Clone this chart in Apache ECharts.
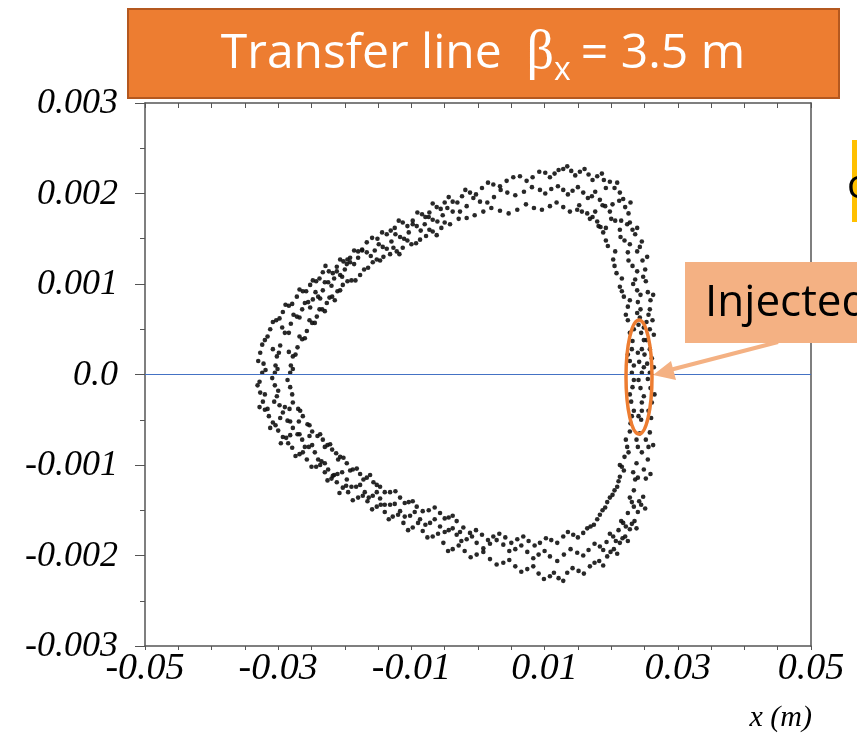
<!DOCTYPE html>
<html>
<head>
<meta charset="utf-8">
<script src="https://cdn.jsdelivr.net/npm/echarts@6/dist/echarts.min.js"></script>
<style>
  html, body { margin: 0; padding: 0; background: #fff; }
  #chart { width: 857px; height: 736px; }
</style>
</head>
<body>
<div id="chart"></div>
<script>
// points, x in mm, x' in mrad
var outerBand = [[25.8,0.02],[25.4,0.12],[26.1,0.18],[25.8,0.28],[25.3,0.38],[25.8,0.50],[26.2,0.60],[25.6,0.66],[25.8,0.72],[25.9,0.82],[25.5,0.91],[25.2,1.03],[25.1,1.16],[24.7,1.26],[24.3,1.41],[24.6,1.47],[23.6,1.55],[23.2,1.60],[22.8,1.68],[22.6,1.78],[22.1,1.85],[21.8,1.94],[21.3,2.01],[20.5,2.06],[19.8,2.13],[18.9,2.15],[17.9,2.19],[16.6,2.21],[15.3,2.24],[14.0,2.25],[12.8,2.27],[11.5,2.22],[10.1,2.23],[8.2,2.18],[6.3,2.19],[4.3,2.14],[2.3,2.10],[0.6,2.06],[-1.2,2.01],[-2.4,1.97],[-3.8,1.91],[-5.0,1.90],[-6.2,1.85],[-7.3,1.79],[-8.4,1.77],[-9.8,1.70],[-11.3,1.68],[-12.5,1.62],[-13.7,1.55],[-15.1,1.50],[-16.7,1.46],[-18.0,1.36],[-19.2,1.29],[-20.2,1.25],[-21.2,1.19],[-22.4,1.14],[-23.3,1.13],[-24.3,1.03],[-25.2,0.99],[-26.3,0.92],[-27.2,0.86],[-28.4,0.76],[-29.3,0.69],[-30.3,0.60],[-31.2,0.50],[-32.0,0.38],[-32.7,0.24],[-32.2,0.12],[-32.4,0.02],[-32.8,-0.08],[-32.7,-0.20],[-32.3,-0.30],[-32.0,-0.39],[-31.4,-0.46],[-30.8,-0.53],[-30.0,-0.62],[-29.3,-0.69],[-28.5,-0.76],[-27.9,-0.81],[-26.8,-0.88],[-25.7,-0.94],[-24.3,-1.02],[-23.0,-1.08],[-22.0,-1.15],[-21.2,-1.19],[-20.3,-1.25],[-19.5,-1.30],[-18.0,-1.36],[-16.6,-1.40],[-15.2,-1.46],[-14.0,-1.52],[-12.8,-1.57],[-11.2,-1.64],[-9.8,-1.69],[-8.3,-1.73],[-6.8,-1.79],[-5.2,-1.86],[-3.8,-1.93],[-2.0,-1.95],[-0.2,-1.99],[1.8,-2.04],[3.8,-2.08],[5.6,-2.12],[7.4,-2.15],[9.1,-2.20],[10.8,-2.23],[12.1,-2.25],[13.4,-2.19],[15.1,-2.17],[16.8,-2.12],[18.2,-2.06],[19.4,-2.01],[20.4,-1.93],[21.3,-1.86],[22.1,-1.79],[22.8,-1.71],[23.5,-1.62],[24.0,-1.52],[24.5,-1.44],[24.8,-1.35],[25.2,-1.15],[25.5,-0.94],[25.6,-0.80],[25.8,-0.64],[26.0,-0.48],[26.1,-0.31],[25.9,-0.15]];
var outerSpread = [[26.4,0.08],[25.0,0.22],[26.4,0.44],[25.3,0.58],[26.3,0.88],[24.8,1.08],[25.4,1.30],[23.9,1.36],[23.9,1.62],[22.4,1.66],[22.9,1.90],[21.2,1.92],[20.9,2.12],[19.2,2.06],[18.6,2.22],[17.2,2.15],[16.0,2.27],[14.6,2.20],[13.4,2.30],[12.1,2.26],[10.8,2.18],[9.2,2.24],[7.3,2.14],[5.3,2.18],[3.3,2.08],[1.5,2.12],[-0.3,1.99],[-1.9,2.04],[-3.1,1.90],[-4.4,1.96],[-5.6,1.83],[-6.8,1.89],[-7.9,1.74],[-9.1,1.79],[-10.6,1.64],[-11.9,1.70],[-13.1,1.59],[-14.4,1.57],[-15.9,1.51],[-17.4,1.37],[-18.6,1.37],[-19.7,1.22],[-20.7,1.27],[-21.8,1.12],[-22.9,1.20],[-23.8,1.06],[-24.8,1.04],[-25.8,0.92],[-26.8,0.94],[-27.9,0.78],[-28.9,0.77],[-29.8,0.62],[-30.8,0.58],[-31.6,0.42],[-32.4,0.33],[-33.0,0.15],[-31.9,0.05],[-33.1,-0.12],[-32.0,-0.22],[-32.8,-0.36],[-31.6,-0.38],[-31.2,-0.59],[-30.4,-0.56],[-29.6,-0.76],[-28.8,-0.70],[-27.4,-0.90],[-26.3,-0.86],[-25.0,-1.02],[-23.7,-1.00],[-22.6,-1.17],[-21.6,-1.11],[-20.8,-1.31],[-19.8,-1.23],[-18.8,-1.39],[-17.3,-1.34],[-15.9,-1.49],[-14.6,-1.44],[-13.4,-1.60],[-12.0,-1.55],[-10.5,-1.72],[-9.0,-1.64],[-7.6,-1.80],[-6.0,-1.76],[-4.5,-1.95],[-2.9,-1.89],[-1.1,-2.02],[0.8,-1.96],[2.8,-2.10],[4.7,-2.05],[6.5,-2.18],[8.3,-2.12],[9.9,-2.26],[11.4,-2.19],[12.8,-2.28],[14.2,-2.14],[15.9,-2.20],[17.5,-2.08],[18.8,-2.11],[19.9,-1.96],[20.9,-1.98],[21.7,-1.81],[22.5,-1.84],[23.1,-1.65],[23.8,-1.70],[24.2,-1.40],[25.1,-1.48],[24.9,-1.05],[25.9,-1.10],[25.2,-0.72],[26.3,-0.78],[25.6,-0.40],[26.5,-0.22],[25.5,-0.05]];

var middleBand = [[24.6,0.02],[24.2,0.14],[24.6,0.28],[24.9,0.38],[24.5,0.46],[24.1,0.55],[24.3,0.63],[24.4,0.72],[24.0,0.80],[23.9,0.93],[23.6,1.05],[23.2,1.20],[22.5,1.35],[22.0,1.48],[21.3,1.60],[20.6,1.70],[19.8,1.80],[19.1,1.86],[18.3,1.93],[17.1,1.97],[15.8,2.01],[14.2,2.03],[12.8,2.04],[11.0,2.05],[9.3,2.04],[6.9,2.02],[4.4,2.01],[2.4,1.96],[0.3,1.91],[-1.7,1.86],[-3.8,1.80],[-5.3,1.76],[-6.8,1.71],[-8.0,1.66],[-9.2,1.64],[-10.4,1.57],[-11.7,1.52],[-13.0,1.47],[-14.3,1.41],[-15.5,1.37],[-16.7,1.35],[-18.0,1.29],[-19.2,1.24],[-20.0,1.16],[-20.7,1.10],[-21.6,1.06],[-22.5,1.02],[-23.3,0.93],[-24.0,0.86],[-24.8,0.83],[-25.5,0.80],[-26.4,0.72],[-27.2,0.64],[-28.1,0.56],[-29.0,0.46],[-29.7,0.32],[-30.2,0.20],[-30.4,0.10],[-30.5,0.02],[-30.5,-0.12],[-30.2,-0.24],[-29.8,-0.34],[-29.3,-0.42],[-28.6,-0.51],[-27.8,-0.59],[-27.1,-0.66],[-26.4,-0.72],[-25.4,-0.80],[-24.5,-0.86],[-23.5,-0.96],[-22.5,-1.05],[-21.1,-1.10],[-19.7,-1.16],[-18.3,-1.24],[-17.0,-1.30],[-15.8,-1.34],[-14.7,-1.37],[-13.2,-1.44],[-11.7,-1.51],[-10.2,-1.56],[-8.7,-1.60],[-7.2,-1.64],[-5.7,-1.68],[-4.4,-1.72],[-3.2,-1.77],[-1.7,-1.82],[-0.2,-1.86],[1.8,-1.87],[3.8,-1.88],[5.6,-1.93],[7.4,-1.96],[9.1,-1.99],[10.8,-2.01],[12.9,-1.99],[14.9,-1.97],[16.6,-1.94],[18.3,-1.90],[19.3,-1.85],[20.3,-1.79],[21.1,-1.72],[21.8,-1.64],[22.5,-1.53],[23.1,-1.41],[23.4,-1.28],[23.6,-1.16],[23.8,-0.98],[24.0,-0.80],[24.3,-0.65],[24.5,-0.50],[24.6,-0.40],[24.6,-0.31],[24.4,-0.15]];
var middleSpread = [[24.9,0.08],[24.0,0.24],[24.9,0.52],[23.9,0.68],[24.4,0.88],[23.3,1.00],[23.9,1.14],[22.6,1.26],[22.8,1.44],[21.4,1.52],[21.5,1.70],[20.0,1.72],[20.2,1.88],[18.7,1.87],[17.6,2.02],[16.5,1.95],[15.0,2.07],[13.5,1.99],[12.0,2.08],[10.1,2.00],[8.1,2.07],[5.6,1.98],[3.4,2.04],[1.4,1.90],[-0.7,1.95],[-2.7,1.80],[-4.6,1.84],[-6.1,1.69],[-7.4,1.74],[-8.6,1.59],[-9.8,1.66],[-11.1,1.50],[-12.4,1.55],[-13.7,1.39],[-14.9,1.44],[-16.1,1.31],[-17.4,1.38],[-18.6,1.22],[-19.6,1.27],[-20.4,1.08],[-21.2,1.14],[-22.0,0.98],[-23.0,1.02],[-23.7,0.84],[-24.4,0.91],[-25.2,0.74],[-26.0,0.79],[-26.8,0.63],[-27.7,0.66],[-28.4,0.46],[-29.4,0.52],[-29.9,0.24],[-30.8,0.28],[-30.1,0.06],[-30.9,-0.04],[-30.0,-0.18],[-30.6,-0.30],[-29.0,-0.36],[-29.7,-0.48],[-28.2,-0.52],[-28.2,-0.67],[-26.8,-0.66],[-26.0,-0.80],[-24.9,-0.78],[-24.0,-0.94],[-23.0,-0.98],[-21.8,-1.12],[-20.4,-1.08],[-19.0,-1.24],[-17.7,-1.22],[-16.4,-1.36],[-15.2,-1.30],[-14.0,-1.44],[-12.5,-1.43],[-11.0,-1.57],[-9.5,-1.52],[-7.9,-1.66],[-6.5,-1.60],[-5.0,-1.74],[-3.8,-1.70],[-2.5,-1.84],[-0.9,-1.79],[0.8,-1.92],[2.8,-1.83],[4.7,-1.95],[6.5,-1.89],[8.3,-2.03],[10.0,-1.95],[11.9,-2.06],[13.9,-1.93],[15.8,-2.00],[17.5,-1.87],[18.8,-1.94],[19.8,-1.76],[20.7,-1.84],[21.5,-1.62],[22.2,-1.68],[22.8,-1.36],[23.4,-1.46],[23.3,-1.08],[24.0,-1.14],[23.8,-0.72],[24.6,-0.86],[24.1,-0.46],[24.9,-0.24],[24.1,-0.06]];

var innerBand = [[23.1,0.02],[22.8,0.15],[23.1,0.28],[23.2,0.37],[22.8,0.46],[22.5,0.60],[22.5,0.75],[21.9,0.86],[21.3,0.97],[20.8,1.12],[20.3,1.27],[19.5,1.42],[18.8,1.57],[18.4,1.63],[17.9,1.69],[17.2,1.74],[16.4,1.78],[15.6,1.80],[14.9,1.82],[12.8,1.85],[10.8,1.86],[8.4,1.84],[5.9,1.82],[3.3,1.81],[0.8,1.80],[-1.7,1.73],[-4.2,1.66],[-5.5,1.62],[-6.8,1.58],[-7.8,1.53],[-8.7,1.49],[-10.0,1.44],[-11.3,1.40],[-12.2,1.36],[-13.2,1.33],[-14.2,1.30],[-15.2,1.27],[-16.5,1.18],[-17.7,1.10],[-19.0,1.04],[-20.3,0.99],[-21.1,0.92],[-21.9,0.86],[-22.7,0.79],[-23.4,0.72],[-24.2,0.64],[-24.9,0.57],[-25.7,0.48],[-26.4,0.39],[-27.1,0.30],[-27.8,0.20],[-28.1,0.10],[-28.2,0.02],[-28.2,-0.14],[-27.8,-0.31],[-27.0,-0.38],[-26.3,-0.46],[-25.6,-0.55],[-24.9,-0.63],[-24.1,-0.68],[-23.3,-0.72],[-22.6,-0.78],[-21.9,-0.83],[-21.3,-0.87],[-20.7,-0.91],[-19.7,-0.98],[-18.8,-1.05],[-17.7,-1.10],[-16.7,-1.14],[-15.7,-1.19],[-14.7,-1.24],[-13.2,-1.30],[-11.7,-1.36],[-10.4,-1.41],[-9.2,-1.46],[-7.4,-1.50],[-5.7,-1.53],[-4.4,-1.58],[-3.2,-1.62],[-2.2,-1.69],[-1.2,-1.75],[0.6,-1.77],[2.3,-1.79],[4.1,-1.80],[5.9,-1.82],[7.6,-1.84],[9.3,-1.86],[11.0,-1.83],[12.8,-1.79],[14.3,-1.77],[15.8,-1.75],[16.9,-1.68],[17.9,-1.60],[18.7,-1.50],[19.4,-1.41],[20.2,-1.33],[20.9,-1.24],[21.3,-1.13],[21.6,-1.02],[22.0,-0.91],[22.4,-0.80],[22.8,-0.63],[23.1,-0.46],[23.0,-0.30],[23.2,-0.14]];
var innerSpread = [[23.4,0.10],[22.5,0.22],[23.4,0.50],[22.2,0.66],[22.8,0.82],[21.6,0.92],[21.6,1.06],[20.5,1.20],[20.6,1.36],[19.2,1.48],[19.2,1.62],[18.1,1.64],[17.6,1.80],[16.8,1.72],[15.2,1.87],[13.8,1.80],[11.8,1.90],[9.6,1.82],[7.2,1.88],[4.6,1.78],[2.0,1.84],[-0.5,1.76],[-2.9,1.72],[-5.0,1.68],[-6.2,1.54],[-7.3,1.60],[-9.3,1.45],[-10.6,1.48],[-11.8,1.33],[-12.7,1.40],[-14.7,1.26],[-15.8,1.24],[-17.1,1.16],[-18.4,1.04],[-19.6,1.03],[-20.7,0.93],[-21.5,0.82],[-22.3,0.85],[-23.0,0.70],[-23.8,0.72],[-24.5,0.57],[-25.3,0.60],[-26.0,0.40],[-26.8,0.42],[-27.4,0.22],[-28.4,0.25],[-27.8,0.06],[-28.6,-0.06],[-27.9,-0.22],[-28.3,-0.38],[-26.7,-0.40],[-26.9,-0.52],[-25.3,-0.56],[-25.3,-0.68],[-23.7,-0.66],[-23.0,-0.80],[-22.2,-0.77],[-21.0,-0.94],[-20.2,-0.92],[-19.2,-1.06],[-18.2,-1.04],[-17.2,-1.16],[-16.2,-1.11],[-15.2,-1.22],[-14.0,-1.30],[-12.4,-1.29],[-11.0,-1.42],[-9.8,-1.40],[-8.3,-1.51],[-6.5,-1.47],[-5.0,-1.59],[-3.8,-1.56],[-2.7,-1.74],[-0.3,-1.72],[1.5,-1.83],[3.2,-1.76],[5.0,-1.86],[6.8,-1.79],[8.5,-1.89],[10.2,-1.81],[11.9,-1.86],[13.5,-1.74],[15.0,-1.80],[16.4,-1.70],[17.4,-1.66],[18.3,-1.55],[19.1,-1.47],[19.8,-1.36],[20.5,-1.28],[21.1,-1.18],[21.3,-1.00],[21.9,-1.06],[22.2,-0.72],[22.6,-0.86],[22.9,-0.54],[23.4,-0.40],[22.8,-0.22],[23.4,-0.06]];

// axes and tick labels
var xMin = -0.05, xMax = 0.05, xStep = 0.005;
var yMin = -0.003, yMax = 0.003, yStep = 0.001;
var xTickLabels = ['-0.05', '-0.03', '-0.01', '0.01', '0.03', '0.05'];
var yTickLabels = ['0.003', '0.002', '0.001', '0.0', '-0.001', '-0.002', '-0.003'];
var axisName = 'x (m)';

// mm / mrad -> m / rad
function toSI(arr){
	return arr.map(function(p){ return [p[0] / 1000, p[1] / 1000]; });
}

var myChart = echarts.init(document.getElementById('chart'), null, {renderer: 'canvas'});

function band(name, arr){
	return {
		name: name,
		type: 'scatter',
		symbol: 'circle',
		symbolSize: 4.6,
		itemStyle: {color: '#111', opacity: 0.9},
		data: toSI(arr),
		silent: true
	};
}

var frameAxis = {
	type: 'value', splitLine: {show: false},
	axisLine: {onZero: false, lineStyle: {color: '#555', width: 1.5}}
};

var staticGraphics = [
	{
		type: 'rect', left: 127, top: 8, z: 10,
		shape: {width: 711, height: 89},
		style: {fill: '#ED7D31', stroke: '#B4581F', lineWidth: 2}
	},
	{
		type: 'text', x: 483, y: 54, z: 11,
		style: {
			text: '{a|Transfer line  }{b|β}{c|x}{a|= 3.5 m}',
			align: 'center', verticalAlign: 'middle',
			rich: {
				a: {fontFamily: '"Open Sans", sans-serif', fontSize: 48, fill: '#fff', lineHeight: 66},
				b: {fontFamily: '"Liberation Serif", serif', fontSize: 54, fill: '#fff', lineHeight: 66},
				c: {fontFamily: '"Open Sans", sans-serif', fontSize: 32, fill: '#fff', lineHeight: 30, verticalAlign: 'bottom', padding: [0, 10, 0, 0]}
			}
		}
	},
	{
		type: 'rect', left: 852, top: 140, z: 10,
		shape: {width: 20, height: 82},
		style: {fill: '#FFC000'}
	},
	{
		type: 'text', x: 847, y: 187, z: 11,
		style: {text: 'c', fontFamily: '"Open Sans", sans-serif', fontSize: 40, fill: '#000', verticalAlign: 'middle'}
	},
	{
		type: 'rect', left: 685, top: 262, z: 10,
		shape: {width: 200, height: 81},
		style: {fill: '#F4B183'}
	},
	{
		type: 'text', x: 705, y: 303, z: 11,
		style: {text: 'Injected', fontFamily: '"Open Sans", sans-serif', fontSize: 44, fill: '#000', verticalAlign: 'middle'}
	},
	{
		type: 'line', z: 10,
		shape: {x1: 778, y1: 342, x2: 666, y2: 371},
		style: {stroke: '#F4B183', lineWidth: 4}
	},
	{
		type: 'polygon', z: 10,
		shape: {points: [[653, 375], [671, 361], [676, 380]]},
		style: {fill: '#F4B183'}
	},
	{
		type: 'ellipse', z: 10,
		shape: {cx: 639, cy: 377, rx: 13, ry: 57},
		style: {fill: 'none', stroke: '#ED7D31', lineWidth: 3.5}
	},
	{
		type: 'text', right: 45, top: 703, z: 11,
		style: {text: axisName, font: 'italic 30px "Liberation Serif", serif', fill: '#000'}
	}
];

var option = {
	animation: false,
	grid: {left: 145, right: 46, top: 103, bottom: 90},
	xAxis: [
		Object.assign({}, frameAxis, {
			position: 'bottom', min: xMin, max: xMax, interval: xStep,
			axisTick: {inside: false, length: 4, lineStyle: {color: '#555'}},
			axisLabel: {show: false}
		}),
		Object.assign({}, frameAxis, {
			position: 'top', min: xMin, max: xMax, interval: xStep,
			axisTick: {inside: true, length: 5, lineStyle: {color: '#555'}},
			axisLabel: {show: false}
		})
	],
	yAxis: [
		Object.assign({}, frameAxis, {
			position: 'left', min: yMin, max: yMax, interval: yStep,
			axisTick: {length: 10, lineStyle: {color: '#555'}},
			minorTick: {show: true, splitNumber: 2, length: 5, lineStyle: {color: '#555'}},
			axisLabel: {show: false}
		}),
		Object.assign({}, frameAxis, {
			position: 'right', min: yMin, max: yMax, interval: yStep,
			axisTick: {show: false},
			axisLabel: {show: false}
		})
	],
	series: [
		band('outer', outerBand.concat(outerSpread)),
		band('middle', middleBand.concat(middleSpread)),
		band('inner', innerBand.concat(innerSpread)),
		{
			// horizontal reference at x' = 0
			type: 'line', data: [], silent: true,
			markLine: {
				symbol: 'none', silent: true, label: {show: false},
				lineStyle: {color: '#4472C4', width: 1.2, type: 'solid'},
				data: [{yAxis: 0}]
			}
		}
	],
	graphic: staticGraphics
};
myChart.setOption(option);

// italic tick labels placed through the axes' own scales
var labelGraphics = [];
var gridRect = myChart.getModel().getComponent('grid').coordinateSystem.getRect();
xTickLabels.forEach(function(t){
	var px = myChart.convertToPixel({xAxisIndex: 0}, parseFloat(t));
	labelGraphics.push({
		type: 'text', x: px, y: gridRect.y + gridRect.height + 4, z: 11,
		style: {text: t, font: 'italic 38px "Liberation Serif", serif', fill: '#000', align: 'center', verticalAlign: 'top'}
	});
});
yTickLabels.forEach(function(t){
	var py = myChart.convertToPixel({yAxisIndex: 0}, parseFloat(t));
	labelGraphics.push({
		type: 'text', x: gridRect.x - 27, y: py + 1, z: 11,
		style: {text: t, font: 'italic 36px "Liberation Serif", serif', fill: '#000', align: 'right', verticalAlign: 'middle'}
	});
});
myChart.setOption({graphic: staticGraphics.concat(labelGraphics)});
</script>
</body>
</html>
